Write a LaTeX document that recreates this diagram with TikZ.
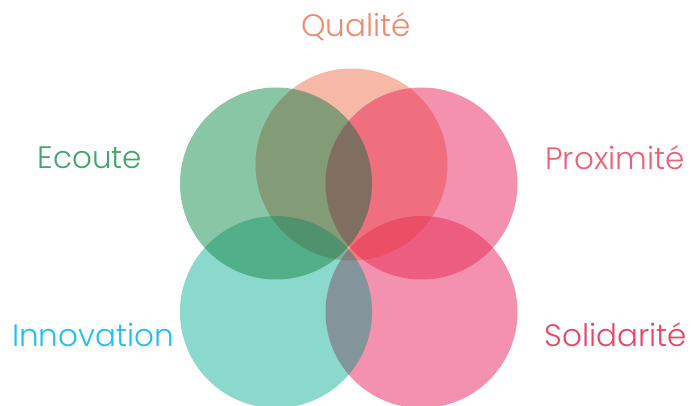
\documentclass[tikz,border=0pt]{standalone}
\usepackage{fontspec}
\IfFontExistsTF{Poppins Light}{\setmainfont{Poppins Light}}{\setmainfont{Poppins}}
\usetikzlibrary{calc}

% colours of the discs as they look alone on white
\definecolor{qualW}{RGB}{248,184,168}
\definecolor{ecouW}{RGB}{136,198,166}
\definecolor{proxW}{RGB}{245,146,174}
\definecolor{innoW}{RGB}{138,217,204}
\definecolor{soliW}{RGB}{245,146,174}
% full-strength colours, laid down at 60% opacity
\definecolor{qualB}{RGB}{243,137,110}
\definecolor{ecouB}{RGB}{57,160,107}
\definecolor{proxB}{RGB}{238,73,120}
\definecolor{innoB}{RGB}{60,192,170}
\definecolor{soliB}{RGB}{238,73,120}
% label colours
\definecolor{qualT}{RGB}{240,138,108}
\definecolor{ecouT}{RGB}{67,165,110}
\definecolor{proxT}{RGB}{238,95,120}
\definecolor{innoT}{RGB}{32,192,238}
\definecolor{soliT}{RGB}{236,68,100}

\tikzset{
  disc/.style={radius=96pt},
  lbl/.style={inner sep=0pt, anchor=base, font=\fontsize{31}{37}\selectfont}
}

\begin{document}
\begin{tikzpicture}[x=1pt,y=-1pt]
\useasboundingbox (0,0) rectangle (691,406);
\clip (0,0) rectangle (691,406);

\coordinate (cQ) at (351.5,164.5);
\coordinate (cE) at (276,183.5);
\coordinate (cP) at (421.5,183.5);
\coordinate (cI) at (276,312);
\coordinate (cS) at (421.5,312);

% first layer: discs multiplied together
\begin{scope}[blend group=multiply]
  \fill[soliW] (cS) circle[disc];
  \fill[qualW] (cQ) circle[disc];
  \fill[proxW] (cP) circle[disc];
  \fill[innoW] (cI) circle[disc];
  \fill[ecouW] (cE) circle[disc];
\end{scope}

% second layer: the same discs stacked with plain transparency, at half strength
\begin{scope}[opacity=0.5]
  \begin{scope}[transparency group]
    \fill[white] (170,60) rectangle (530,406);
    \fill[soliB, fill opacity=0.6] (cS) circle[disc];
    \fill[qualB, fill opacity=0.6] (cQ) circle[disc];
    \fill[proxB, fill opacity=0.6] (cP) circle[disc];
    \fill[innoB, fill opacity=0.6] (cI) circle[disc];
    \fill[ecouB, fill opacity=0.6] (cE) circle[disc];
  \end{scope}
\end{scope}

% labels
\node[lbl, text=qualT] (qualite)    at (356,37)  {Qualité};
\node[lbl, text=ecouT] (ecoute)     at (90,169)  {Ecoute};
\node[lbl, text=proxT] (proximite)  at (615,170) {Proximité};
\node[lbl, text=innoT] (innovation) at (93,346)  {Innovation};
\node[lbl, text=soliT] (solidarite) at (616,346) {Solidarité};
\end{tikzpicture}
\end{document}
